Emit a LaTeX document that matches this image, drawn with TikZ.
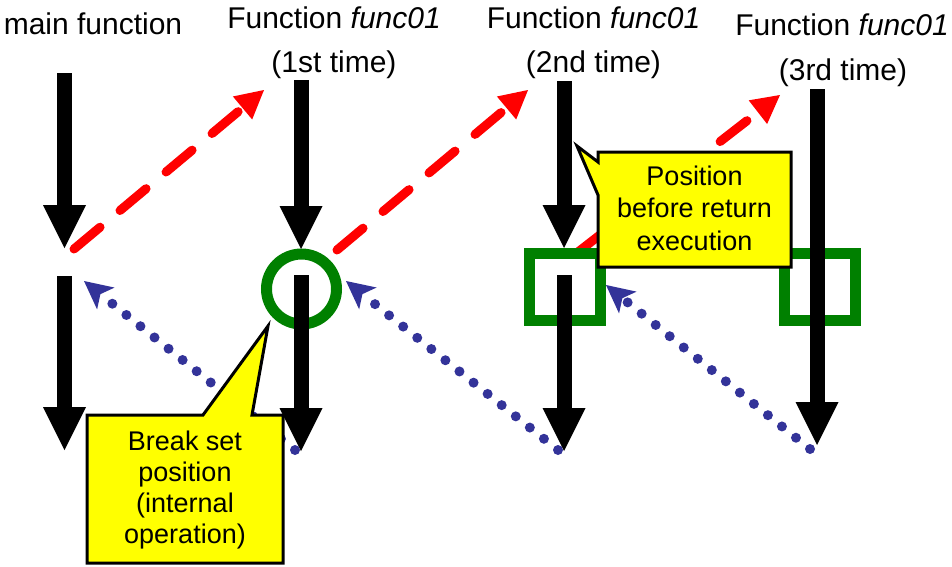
\documentclass[tikz,border=0pt]{standalone}
\usepackage{fontspec}
\setmainfont{Liberation Sans}
\usetikzlibrary{arrows.meta}
\definecolor{myred}{RGB}{255,0,0}
\definecolor{mygreen}{RGB}{0,128,0}
\definecolor{myblue}{RGB}{51,51,153}
\definecolor{myyellow}{RGB}{255,255,0}
\tikzset{
  flow/.style={line width=15pt,-{Triangle[width=43pt,length=43pt,line width=0pt]}},
  call/.style={myred,line width=9pt,line cap=round,dash pattern=on 34pt off 26pt,
    -{Triangle[width=30pt,length=28pt,line width=0pt]}},
  ret/.style={myblue,line width=10pt,line cap=round,dash pattern=on 0pt off 18pt,
    -{Stealth[width=28pt,length=28pt,inset=7pt,line width=0pt]}},
  greenmark/.style={mygreen,line width=11pt},
  bubble/.style={fill=myyellow,draw=black,line width=3pt,line join=miter},
  head/.style={font=\fontsize{30}{36}\selectfont,inner sep=0pt,anchor=base},
  note/.style={font=\fontsize{27}{31}\selectfont,inner sep=0pt,align=center},
}
\begin{document}
\begin{tikzpicture}[x=1pt,y=-1pt]
\useasboundingbox (0,0) rectangle (952,566);
% headings
\node[head] (hmain) at (93,34) {main function};
\node[head] (h1a) at (334,28) {Function \textit{func01}};
\node[head] (h1b) at (334,72) {(1st time)};
\node[head] (h2a) at (593.5,28) {Function \textit{func01}};
\node[head] (h2b) at (593.5,72) {(2nd time)};
\node[head] (h3a) at (842,35) {Function \textit{func01}};
\node[head] (h3b) at (843,80) {(3rd time)};
% coordinates
\coordinate (m1s) at (64.5,73);  \coordinate (m1e) at (64.5,248);
\coordinate (m2s) at (64.5,276); \coordinate (m2e) at (64.5,450);
\coordinate (a1s) at (301,80);   \coordinate (a1e) at (301,249);
\coordinate (a2s) at (301,275);  \coordinate (a2e) at (301,451);
\coordinate (b1s) at (564,81);   \coordinate (b1e) at (564,248);
\coordinate (b2s) at (564,275);  \coordinate (b2e) at (564,451);
\coordinate (c1s) at (817,89);   \coordinate (c1e) at (817,445);
% call / return endpoints
\coordinate (r1s) at (74,249);  \coordinate (r1e) at (264,90);
\coordinate (r2s) at (337,250); \coordinate (r2e) at (528,90);
\coordinate (r3s) at (578,252); \coordinate (r3e) at (780,95);
\coordinate (u1s) at (295,450); \coordinate (u1e) at (84,281);
\coordinate (u2s) at (558,450); \coordinate (u2e) at (346,281);
\coordinate (u3s) at (810,449); \coordinate (u3e) at (606,285);
% return arrows
\draw[ret] (u1s) -- (u1e);
\draw[ret] (u2s) -- (u2e);
\draw[ret] (u3s) -- (u3e);
% call arrows
\draw[call] (r1s) -- (r1e);
\draw[call] (r2s) -- (r2e);
\draw[call] (r3s) -- (r3e);
% markers
\draw[greenmark] (301.5,289) circle (35);
\draw[greenmark] (529.5,253.5) rectangle (600.5,320.5);
\draw[greenmark] (784.5,253.5) rectangle (855.5,320.5);
% flow arrows
\draw[flow] (m1s) -- (m1e);
\draw[flow] (m2s) -- (m2e);
\draw[flow] (a1s) -- (a1e);
\draw[flow] (a2s) -- (a2e);
\draw[flow] (b1s) -- (b1e);
\draw[flow] (b2s) -- (b2e);
\draw[flow] (c1s) -- (c1e);
% callouts
\draw[bubble] (87,415) -- (203,415) -- (268,326) -- (252,415) -- (283,415)
  -- (283,563) -- (87,563) -- cycle;
\node[note] (n1) at (185,489.7) {Break set\\position\\(internal\\operation)};
\draw[bubble] (598,152) -- (791,152) -- (791,267) -- (598,267) -- (598,195)
  -- (577,146) -- (598,162) -- cycle;
\node[note,font=\fontsize{27}{32.5}\selectfont] (n2) at (694.5,207.9) {Position\\before return\\execution};
\end{tikzpicture}
\end{document}
